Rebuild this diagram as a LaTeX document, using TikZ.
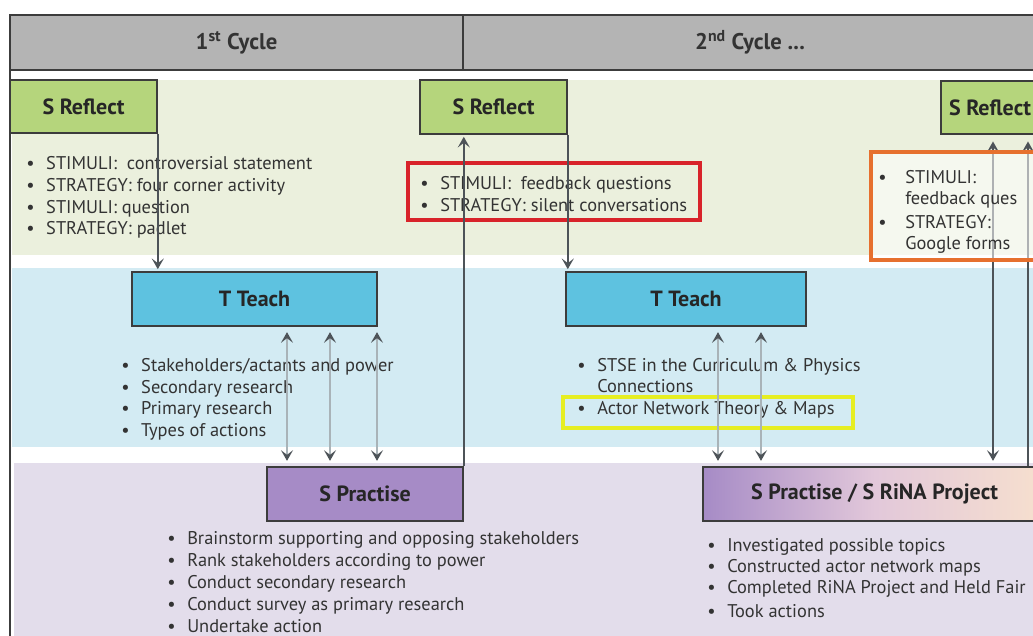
\documentclass[tikz,border=0pt]{standalone}
\usepackage{fontspec}
\setmainfont{PT Sans}
\usetikzlibrary{arrows.meta}
\definecolor{hdrgray}{HTML}{B4B4B4}
\definecolor{bandgreen}{HTML}{EBF0DD}
\definecolor{bandblue}{HTML}{D3EBF3}
\definecolor{bandpurple}{HTML}{E3DDEB}
\definecolor{reflgreen}{HTML}{B5D57C}
\definecolor{teachblue}{HTML}{5EC2E0}
\definecolor{pracpurple}{HTML}{A68BC6}
\definecolor{pracpeach}{HTML}{F7E0CE}
\definecolor{pracmid}{HTML}{E2C8DA}
\definecolor{arrowdark}{HTML}{4D5358}
\definecolor{shaftlight}{HTML}{A9B3B8}
\definecolor{redc}{HTML}{D8232A}
\definecolor{orangec}{HTML}{E6702E}
\definecolor{yellowc}{HTML}{E6EE22}
\definecolor{borderc}{HTML}{3C3C3C}
\definecolor{textc}{HTML}{333333}
\newcommand\bul{\makebox[15pt][l]{\textbullet}}
\tikzset{
  hdr/.style={draw=borderc, line width=1.2pt, fill=hdrgray, inner sep=0pt,
    font=\bfseries\fontsize{17}{20}\selectfont, text=textc},
  box/.style={draw=borderc, line width=1.2pt, inner sep=0pt,
    font=\bfseries\fontsize{16.5}{19}\selectfont, text=black!85},
  reflbox/.style={box, fill=reflgreen},
  teachbox/.style={box, fill=teachblue},
  pracbox/.style={box, fill=pracpurple},
  txt/.style={anchor=base west, inner sep=0pt, text=textc,
    font=\fontsize{13.8}{16}\selectfont},
  arr/.style={draw=arrowdark, line width=1.5pt, -{Stealth[length=8pt,width=9pt,inset=3.5pt]}},
  dblarr/.style={draw=arrowdark, line width=1.5pt,
    {Stealth[length=8pt,width=9pt,inset=3.5pt]}-{Stealth[length=8pt,width=9pt,inset=3.5pt]}},
  lightarr/.style={draw=shaftlight, line width=1.5pt,
    {Stealth[length=8pt,width=9pt,inset=3.5pt,color=arrowdark]}-{Stealth[length=8pt,width=9pt,inset=3.5pt,color=arrowdark]}},
  hilite/.style={line width=2.6pt, inner sep=0pt}
}
\begin{document}
\begin{tikzpicture}[x=0.75pt,y=-0.75pt]
\useasboundingbox (0,0) rectangle (1033,636);
\clip (0,0) rectangle (1033,636);
% bands
\fill[bandgreen] (12,80) rectangle (1040,255);
\fill[bandblue] (12,268) rectangle (1040,447);
\fill[bandpurple] (14,463) rectangle (1040,640);
\draw[borderc, line width=1.5pt] (10,15) -- (10,640);
% header
\node[hdr, minimum width=339.75pt, minimum height=41.25pt] (h1) at (236.5,42.5) {1\textsuperscript{st} Cycle};
\node[hdr, minimum width=430.5pt, minimum height=41.25pt] (h2) at (750,42.5) {2\textsuperscript{nd} Cycle ...};
% reflect boxes
\node[reflbox, minimum width=110.25pt, minimum height=39.75pt] (r1) at (83.5,106.5) {S Reflect};
\node[reflbox, minimum width=110.25pt, minimum height=40.5pt] (r2) at (493.5,107) {S Reflect};
\node[reflbox, minimum width=73.5pt, minimum height=39.75pt] (r3) at (990,107.5) {S Reflect};
% teach boxes
\node[teachbox, minimum width=183.75pt, minimum height=40.5pt] (t1) at (254.5,299) {T Teach};
\node[teachbox, minimum width=180pt, minimum height=40.5pt] (t2) at (686,299) {T Teach};
% practise boxes
\node[pracbox, minimum width=147pt, minimum height=40.5pt] (p1) at (365,494) {S Practise};
\node[box, minimum width=257.25pt, minimum height=40.5pt,
  left color=pracpurple, right color=pracpeach, middle color=pracmid] (p2) at (874.5,494) {S Practise / S RiNA Project};
% reflect 1 list
\node[txt] (l1a) at (26,169) {\bul STIMULI:\ \ controversial statement};
\node[txt] (l1b) at (26,191) {\bul STRATEGY: four corner activity};
\node[txt] (l1c) at (26,213) {\bul STIMULI: question};
\node[txt] (l1d) at (26,234) {\bul STRATEGY: padlet};
% red box list
\node[txt] (l2a) at (420,189) {\bul STIMULI:\ \ feedback questions};
\node[txt] (l2b) at (420,211) {\bul STRATEGY: silent conversations};
% teach 1 list
\node[txt] (l4a) at (121,371) {\bul Stakeholders/actants and power};
\node[txt] (l4b) at (121,393) {\bul Secondary research};
\node[txt] (l4c) at (121,414) {\bul Primary research};
\node[txt] (l4d) at (121,436) {\bul Types of actions};
% teach 2 list
\node[txt] (l5a) at (577,371) {\bul STSE in the Curriculum \& Physics};
\node[txt] (l5b) at (577,392) {\hspace*{15pt}Connections};
\node[txt] (l5c) at (577,414) {\bul Actor Network Theory \& Maps};
% practise 1 list
\node[txt] (l6a) at (167,544) {\bul Brainstorm supporting and opposing stakeholders};
\node[txt] (l6b) at (167,566) {\bul Rank stakeholders according to power};
\node[txt] (l6c) at (167,588) {\bul Conduct secondary research};
\node[txt] (l6d) at (167,610) {\bul Conduct survey as primary research};
\node[txt] (l6e) at (167,632) {\bul Undertake action};
% practise 2 list
\node[txt] (l7a) at (707,551) {\bul Investigated possible topics};
\node[txt] (l7b) at (707,572) {\bul Constructed actor network maps};
\node[txt] (l7c) at (707,593) {\bul Completed RiNA Project and Held Fair};
\node[txt] (l7d) at (707,617) {\bul Took actions};
% highlight boxes
\node[hilite, draw=redc, minimum width=219pt, minimum height=42.75pt] (red) at (554,191.5) {};
\node[hilite, draw=yellowc, minimum width=217.5pt, minimum height=23.25pt] (yel) at (708,412.5) {};
% connectors
\coordinate (xa) at (287,0);
\coordinate (xb) at (330,0);
\coordinate (xc) at (377,0);
\coordinate (xd) at (718,0);
\coordinate (xe) at (761,0);
\coordinate (xf) at (993,0);
\coordinate (xg) at (1028,0);
\draw[arr, shorten >=1.5pt] (r1.south east) -- (r1.south east |- t1.north);
\draw[arr, shorten >=1.5pt] (p1.north east) -- (p1.north east |- r2.south);
\draw[arr, shorten >=1.5pt] (r2.south east) -- (r2.south east |- t2.north);
\draw[lightarr, shorten >=4pt, shorten <=4pt] (xa |- t1.south) -- (xa |- p1.north);
\draw[lightarr, shorten >=4pt, shorten <=4pt] (xb |- t1.south) -- (xb |- p1.north);
\draw[lightarr, shorten >=4pt, shorten <=4pt] (xc |- t1.south) -- (xc |- p1.north);
\draw[lightarr, shorten >=4pt, shorten <=4pt] (xd |- t2.south) -- (xd |- p2.north);
\draw[lightarr, shorten >=4pt, shorten <=4pt] (xe |- t2.south) -- (xe |- p2.north);
\draw[dblarr, shorten >=5pt, shorten <=4pt] (xf |- p2.north) -- (xf |- r3.south);
\draw[arr, shorten >=5pt] (xg |- p2.north) -- (xg |- r3.south);
% orange box and its list
\node[hilite, draw=orangec, fill=white, fill opacity=0.55, minimum width=126.75pt, minimum height=81pt] (ora) at (955.5,206) {};
\node[txt] (l3a) at (878,183) {\makebox[20.25pt][l]{\textbullet}STIMULI:};
\node[txt] (l3b) at (878,204) {\hspace*{20.25pt}feedback ques};
\node[txt] (l3c) at (878,228) {\makebox[20.25pt][l]{\textbullet}STRATEGY:};
\node[txt] (l3d) at (878,249) {\hspace*{20.25pt}Google forms};
\end{tikzpicture}
\end{document}
